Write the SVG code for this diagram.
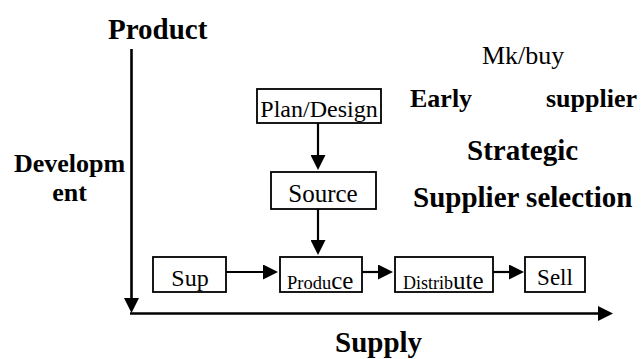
<svg xmlns="http://www.w3.org/2000/svg" width="641" height="359" viewBox="0 0 641 359">
<style>
.t{font-family:'Liberation Serif','DejaVu Serif',serif;fill:#000}
.b{font-weight:bold}
.box{fill:#fff;stroke:#000;stroke-width:1.8}
.ln{stroke:#000;stroke-width:2.2;fill:none}
.ax{stroke:#000;stroke-width:2.6;fill:none}
</style>
<defs>
<marker id="ah" viewBox="0 0 10 10" refX="0" refY="5" markerWidth="17" markerHeight="15" markerUnits="userSpaceOnUse" orient="auto"><path d="M0,0 L10,5 L0,10 z" fill="#000"/></marker>
<marker id="axh" viewBox="0 0 10 10" refX="0" refY="5" markerWidth="15" markerHeight="17" markerUnits="userSpaceOnUse" orient="auto"><path d="M0,0 L10,5 L0,10 z" fill="#000"/></marker>
</defs>
<g id="axes">
<line class="ax" x1="131.5" y1="49" x2="131.5" y2="298" marker-end="url(#axh)"/>
<line class="ax" x1="130" y1="313.5" x2="598" y2="313.5" marker-end="url(#axh)"/>
</g>
<g id="labels">
<text class="t b" x="108" y="39" font-size="29" font-family="Liberation Serif, serif">Product</text>
<text class="t b" x="69.5" y="172" font-size="26" text-anchor="middle">Developm</text>
<text class="t b" x="69.5" y="201" font-size="26" text-anchor="middle">ent</text>
<text class="t b" x="335" y="352" font-size="29">Supply</text>
<text class="t" x="482" y="64" font-size="26">Mk/buy</text>
<text class="t b" x="410" y="107" font-size="26">Early</text>
<text class="t b" x="546" y="107" font-size="26">supplier</text>
<text class="t b" x="467" y="160" font-size="29">Strategic</text>
<text class="t b" x="413" y="207" font-size="29">Supplier selection</text>
</g>
<g id="connectors">
<line class="ln" x1="318" y1="123" x2="318" y2="155" marker-end="url(#ah)"/>
<line class="ln" x1="318" y1="209" x2="318" y2="240" marker-end="url(#ah)"/>
<line class="ln" x1="226" y1="272" x2="263" y2="272" marker-end="url(#ah)"/>
<line class="ln" x1="362" y1="272" x2="378" y2="272" marker-end="url(#ah)"/>
<line class="ln" x1="493" y1="272" x2="509" y2="272" marker-end="url(#ah)"/>
</g>
<g id="plan">
<rect class="box" x="257" y="89" width="124" height="34"/>
<text class="t" x="319" y="117" font-size="24" text-anchor="middle">Plan/Design</text>
</g>
<g id="source">
<rect class="box" x="271" y="172" width="105" height="37"/>
<text class="t" x="323" y="202" font-size="25" text-anchor="middle">Source</text>
</g>
<g id="sup">
<rect class="box" x="153" y="257" width="73" height="35"/>
<text class="t" x="190" y="286" font-size="24" text-anchor="middle">Sup</text>
</g>
<g id="produce">
<rect class="box" x="280" y="257" width="82" height="35"/>
<text class="t" x="287" y="289"><tspan font-size="18.5">Produ</tspan><tspan font-size="25">ce</tspan></text>
</g>
<g id="distribute">
<rect class="box" x="395" y="257" width="98" height="35"/>
<text class="t" x="403" y="289"><tspan font-size="18">Distrib</tspan><tspan font-size="25">ute</tspan></text>
</g>
<g id="sell">
<rect class="box" x="525" y="257" width="60" height="35"/>
<text class="t" x="555" y="285" font-size="23" text-anchor="middle">Sell</text>
</g>
</svg>
